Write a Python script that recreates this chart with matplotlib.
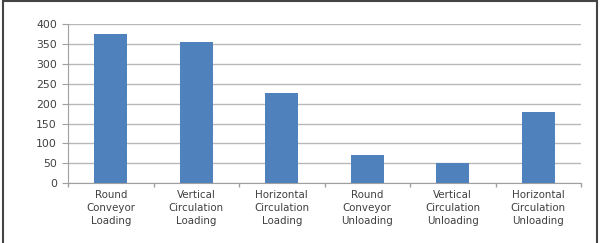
import matplotlib.pyplot as plt
import numpy as np

# Категории и значения
categories = ["Round\nConveyor\nLoading", "Vertical\nCirculation\nLoading",
              "Horizontal\nCirculation\nLoading", "Round\nConveyor\nUnloading",
              "Vertical\nCirculation\nUnloading", "Horizontal\nCirculation\nUnloading"]
values = [375, 357, 228, 70, 50, 178]
yticks = [0, 50, 100, 150, 200, 250, 300, 350, 400]

fig = plt.figure(figsize=(6.05, 2.43), dpi=100)
ax = fig.add_axes([68 / 605, 1 - 183 / 243, (581 - 68) / 605, (183 - 24.5) / 243])

x = np.arange(len(values))
ax.bar(x, values, width=0.39, color="#4f81bd", zorder=3)

ax.set_xlim(-0.5, len(values) - 0.5)
ax.set_ylim(0, 400)
ax.set_yticks(yticks)
ax.grid(axis="y", color="#b8b8b8", linewidth=1.0, zorder=0)

# Подписи категорий
ax.set_xticks(x)
ax.set_xticklabels(categories, fontsize=7.4, color="#404040", linespacing=1.38)
ax.tick_params(axis="x", length=0, pad=5)
# Засечки между категориями
ax.set_xticks(np.arange(-0.5, len(values)), minor=True)
ax.tick_params(axis="x", which="minor", length=3, color="#a0a0a0", width=1)
ax.tick_params(axis="y", length=4, color="#a0a0a0", labelsize=7.8, labelcolor="#404040", pad=4)

for side in ["top", "right"]:
    ax.spines[side].set_visible(False)
ax.spines["left"].set_color("#a0a0a0")
ax.spines["bottom"].set_color("#a0a0a0")

# Рамка вокруг рисунка
fig.patches.append(plt.Rectangle((3 / 605, -0.1), (597 - 3) / 605, 1.1 - 1.5 / 243,
                                 transform=fig.transFigure, fill=False,
                                 edgecolor="#444444", linewidth=1.5))

fig.savefig("out.png", dpi=100)
